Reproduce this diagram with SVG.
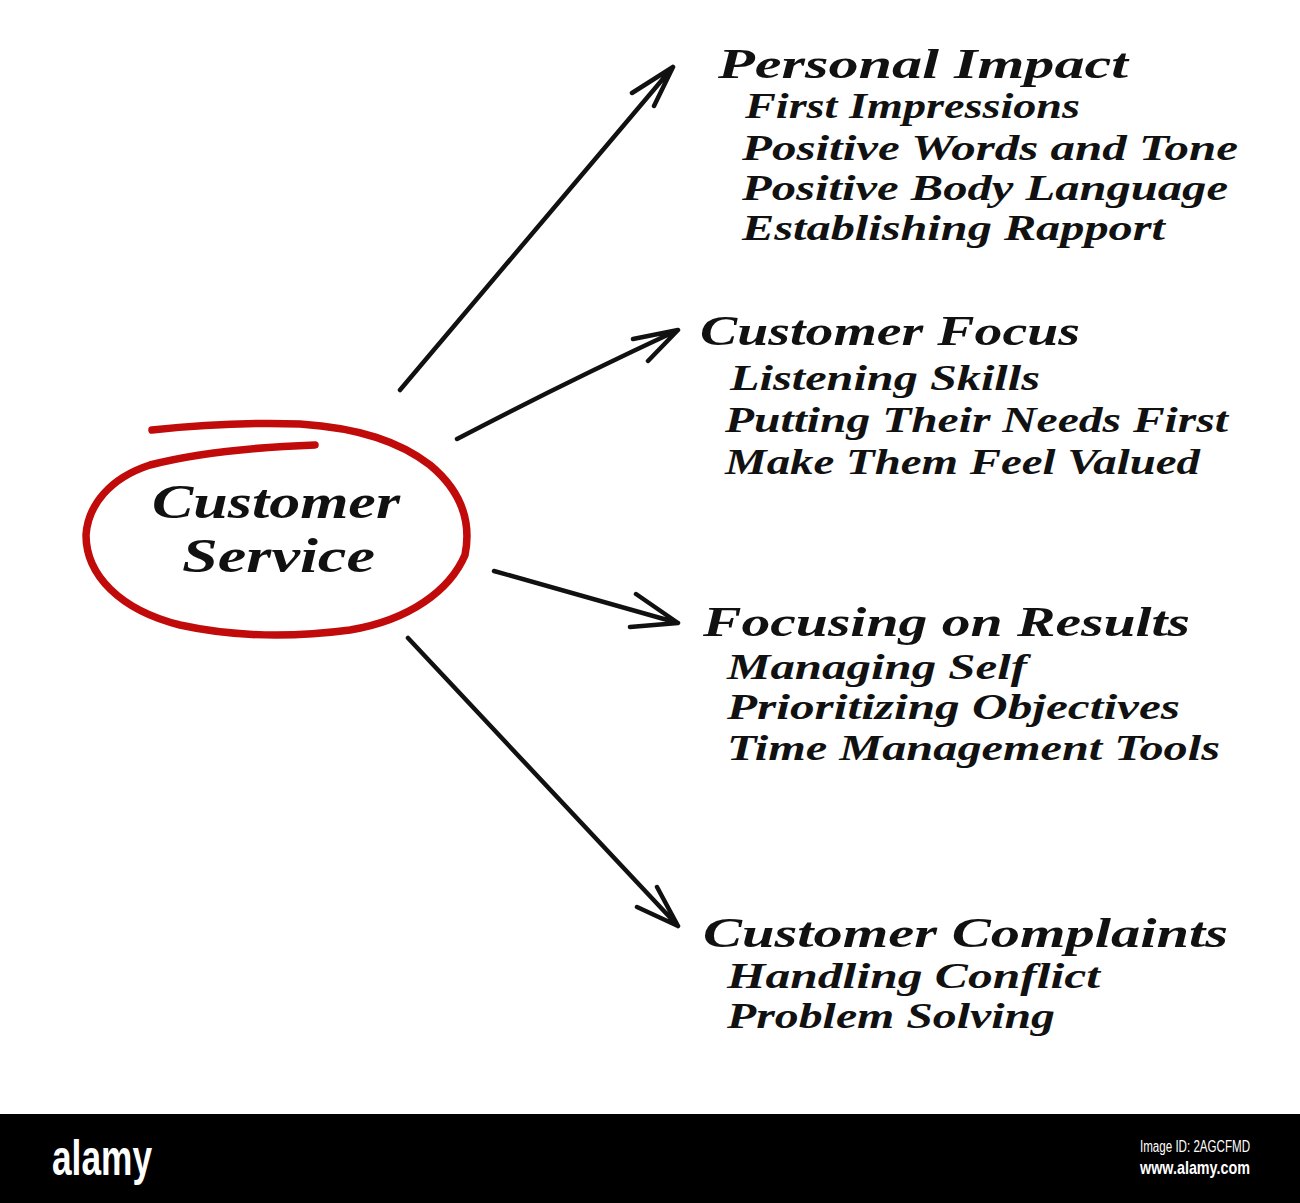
<svg xmlns="http://www.w3.org/2000/svg" width="1300" height="1203" viewBox="0 0 1300 1203">
<style>
.h{font-family:"Liberation Serif","DejaVu Serif",serif;font-style:italic;font-weight:bold;font-size:43px;fill:#111}
.i{font-family:"Liberation Serif","DejaVu Serif",serif;font-style:italic;font-weight:bold;font-size:36px;fill:#111}
.c{font-family:"Liberation Serif","DejaVu Serif",serif;font-style:italic;font-weight:bold;font-size:48px;fill:#111}
.arr{stroke:#111;stroke-width:4.5;fill:none;stroke-linecap:round;stroke-linejoin:round}
</style>
<rect width="1300" height="1203" fill="#fff"/>
<g id="center">
<path d="M315,445 C260,447 200,452 150,465 C110,478 88,505 86,535 C86,575 120,610 180,625 C230,636 290,638 350,630 C410,620 450,590 465,555 C472,520 460,490 430,465 C400,442 360,428 300,424 C240,422 190,426 152,430" fill="none" stroke="#c10a0a" stroke-width="7.5" stroke-linecap="round"/>
<text class="c" x="152" y="518" textLength="248" lengthAdjust="spacingAndGlyphs">Customer</text>
<text class="c" x="182" y="572" textLength="193" lengthAdjust="spacingAndGlyphs">Service</text>
</g>
<g id="connectors">
<path class="arr" d="M400,390 L673,67 M632,93 L673,67 L654,106"/>
<path class="arr" d="M457,439 Q560,385 678,330 M633,339 L678,330 L648,361"/>
<path class="arr" d="M494,571 L678,623 M636,594 L678,623 L630,627"/>
<path class="arr" d="M408,638 L678,926 M657,887 L678,926 L637,907"/>
</g>
<g id="personal-impact">
<text class="h" x="718" y="78" textLength="410" lengthAdjust="spacingAndGlyphs">Personal Impact</text>
<text class="i" x="745" y="118" textLength="335" lengthAdjust="spacingAndGlyphs">First Impressions</text>
<text class="i" x="742" y="160" textLength="496" lengthAdjust="spacingAndGlyphs">Positive Words and Tone</text>
<text class="i" x="742" y="200" textLength="486" lengthAdjust="spacingAndGlyphs">Positive Body Language</text>
<text class="i" x="742" y="240" textLength="423" lengthAdjust="spacingAndGlyphs">Establishing Rapport</text>
</g>
<g id="customer-focus">
<text class="h" x="700" y="345" textLength="380" lengthAdjust="spacingAndGlyphs">Customer Focus</text>
<text class="i" x="730" y="390" textLength="310" lengthAdjust="spacingAndGlyphs">Listening Skills</text>
<text class="i" x="725" y="432" textLength="503" lengthAdjust="spacingAndGlyphs">Putting Their Needs First</text>
<text class="i" x="725" y="474" textLength="475" lengthAdjust="spacingAndGlyphs">Make Them Feel Valued</text>
</g>
<g id="focusing-on-results">
<text class="h" x="703" y="636" textLength="487" lengthAdjust="spacingAndGlyphs">Focusing on Results</text>
<text class="i" x="727" y="679" textLength="300" lengthAdjust="spacingAndGlyphs">Managing Self</text>
<text class="i" x="727" y="719" textLength="453" lengthAdjust="spacingAndGlyphs">Prioritizing Objectives</text>
<text class="i" x="727" y="760" textLength="493" lengthAdjust="spacingAndGlyphs">Time Management Tools</text>
</g>
<g id="customer-complaints">
<text class="h" x="703" y="947" textLength="525" lengthAdjust="spacingAndGlyphs">Customer Complaints</text>
<text class="i" x="727" y="988" textLength="373" lengthAdjust="spacingAndGlyphs">Handling Conflict</text>
<text class="i" x="727" y="1028" textLength="328" lengthAdjust="spacingAndGlyphs">Problem Solving</text>
</g>
<g id="banner">
<rect x="0" y="1114" width="1300" height="89" fill="#000"/>
<text x="52" y="1175" font-family="Liberation Sans,Arial,sans-serif" font-weight="bold" font-size="50" fill="#fff" textLength="100" lengthAdjust="spacingAndGlyphs">alamy</text>
<text x="1140" y="1152" font-family="Liberation Sans,Arial,sans-serif" font-size="16" fill="#fff" textLength="110" lengthAdjust="spacingAndGlyphs">Image ID: 2AGCFMD</text>
<text x="1140" y="1174" font-family="Liberation Sans,Arial,sans-serif" font-weight="bold" font-size="19" fill="#fff" textLength="110" lengthAdjust="spacingAndGlyphs">www.alamy.com</text>
</g>
</svg>
